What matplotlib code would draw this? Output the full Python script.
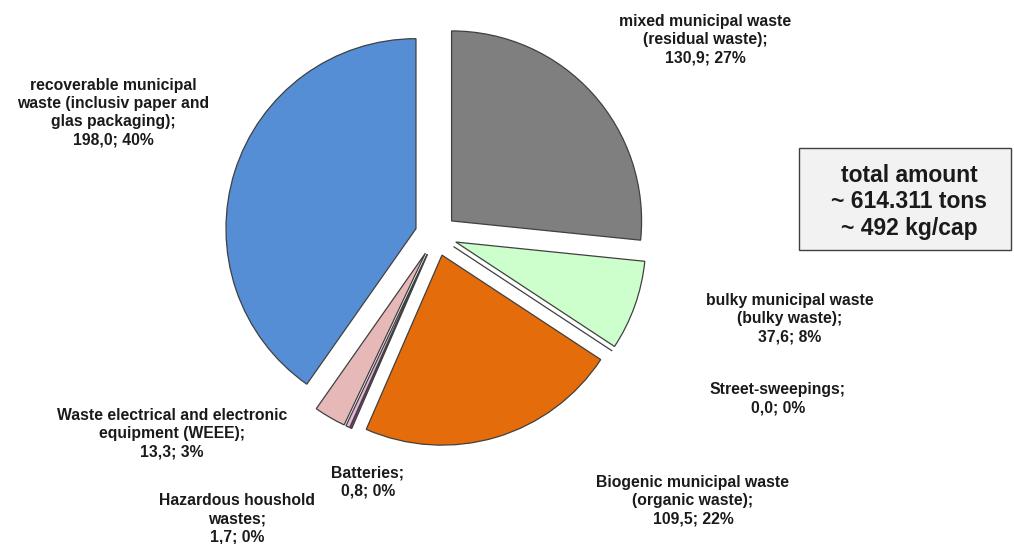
import matplotlib
matplotlib.use("Agg")
import matplotlib.pyplot as plt

categories = [
    "mixed municipal waste\n(residual waste);",
    "bulky municipal waste\n(bulky waste);",
    "Street-sweepings;",
    "Biogenic municipal waste\n(organic waste);",
    "Batteries;",
    "Hazardous houshold\nwastes;",
    "Waste electrical and electronic\nequipment (WEEE);",
    "recoverable municipal\nwaste (inclusiv paper and\nglas packaging);",
]
values = [130.9, 37.6, 0.0, 109.5, 0.8, 1.7, 13.3, 198.0]
colors = ["#7F7F7F", "#CCFFCC", "#A6A6A6", "#E46C0A", "#A0309A", "#E8B4D8", "#E6B9B8", "#558ED5"]
total_text = "total amount\n~ 614.311 tons\n~ 492 kg/cap"

W, H = 1014, 544
fig = plt.figure(figsize=(W / 100, H / 100), dpi=100)
ax = fig.add_axes([0, 0, 1, 1])

cx, cy, R = 436, H - 235, 190
ax.pie(values, colors=colors, startangle=90, counterclock=False,
       center=(cx, cy), radius=R, explode=[21] * len(values),
       wedgeprops=dict(edgecolor="#404040", linewidth=0.9))
ax.set_xlim(0, W)
ax.set_ylim(0, H)
ax.set_aspect("equal")
ax.axis("off")

tot = sum(values)
label_pos = [(705, 21), (790, 300), (778, 389), (693, 482), (368, 472), (237, 500), (172, 415), (113, 85)]
font = dict(family=["Liberation Sans", "DejaVu Sans"], fontweight="bold", fontsize=11.3, color="#1a1a1a")
for cat, v, (x, y) in zip(categories, values, label_pos):
    txt = f"{cat}\n{v:.1f}".replace(".", ",") + f"; {round(100 * v / tot):.0f}%"
    ax.text(x, H - y + 7, txt, ha="center", va="top", linespacing=1.26, **font)

ax.add_patch(plt.Rectangle((799, H - 250), 212, 102, facecolor="#F2F2F2",
                           edgecolor="#404040", linewidth=1.0))
ax.text(909, H - 202, total_text, ha="center", va="center", linespacing=1.2,
        family=["Liberation Sans", "DejaVu Sans"], fontweight="bold", fontsize=16.5, color="#1a1a1a")

fig.savefig("out.png", dpi=100)
